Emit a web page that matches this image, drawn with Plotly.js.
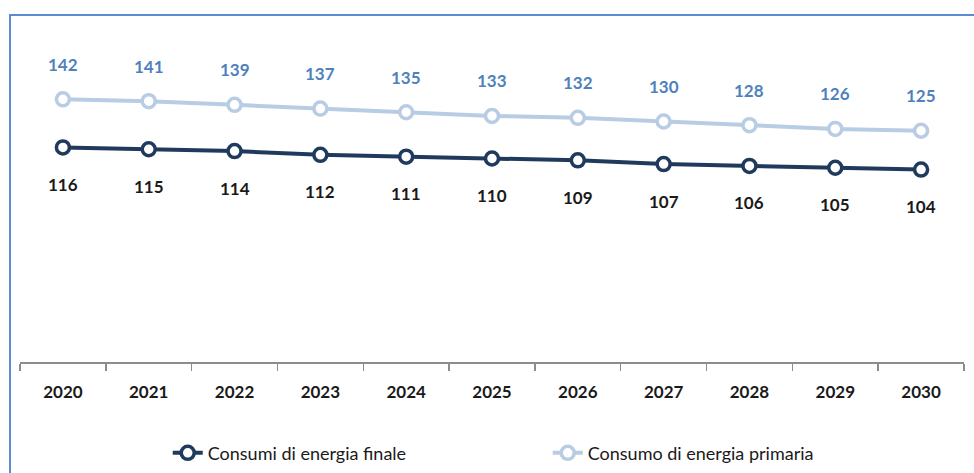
<!DOCTYPE html>
<html>
<head>
<meta charset="utf-8">
<script src="https://cdn.plot.ly/plotly-3.0.1.min.js"></script>
<style>
html,body{margin:0;padding:0;background:#fff;}
#wrap{position:relative;width:974px;height:473px;overflow:hidden;}
#chart{position:absolute;left:0;top:0;width:974px;height:473px;}
#frame{position:absolute;left:9px;top:14px;width:1000px;height:500px;border-left:2px solid #5b8bd0;border-top:2px solid #5b8bd0;pointer-events:none;}
</style>
</head>
<body>
<div id="wrap"><div id="chart"></div><div id="frame"></div></div>
<script>
const years = ['2020','2021','2022','2023','2024','2025','2026','2027','2028','2029','2030'];
const finale = [116,115,114,112,111,110,109,107,106,105,104];
const primaria = [142,141,139,137,135,133,132,130,128,126,125];
const nameFinale = 'Consumi di energia finale';
const namePrimaria = 'Consumo di energia primaria';

const darkC = '#1f3a5c';
const lightC = '#b8cce4';
const labelBlue = '#4f81bd';

const traces = [
  {x: years, y: finale, name: nameFinale, type: 'scatter', mode: 'lines+markers',
   line: {color: darkC, width: 4},
   marker: {symbol: 'circle', size: 13, color: '#ffffff', line: {color: darkC, width: 3.5}},
   cliponaxis: false},
  {x: years, y: primaria, name: namePrimaria, type: 'scatter', mode: 'lines+markers',
   line: {color: lightC, width: 4},
   marker: {symbol: 'circle', size: 13, color: '#ffffff', line: {color: lightC, width: 3.5}},
   cliponaxis: false}
];

const annotations = [];
years.forEach((yr, i) => {
  annotations.push({x: i, y: primaria[i], xref: 'x', yref: 'y', text: String(primaria[i]), showarrow: false,
    yshift: 35, font: {family: 'Lato, sans-serif', size: 17, color: labelBlue, weight: 'bold'}});
  annotations.push({x: i, y: finale[i], xref: 'x', yref: 'y', text: String(finale[i]), showarrow: false,
    yshift: -37, font: {family: 'Lato, sans-serif', size: 17, color: '#1a1a1a', weight: 'bold'}});
});

const layout = {
  width: 974, height: 473,
  margin: {l: 20, r: 10, t: 29, b: 111},
  paper_bgcolor: '#ffffff', plot_bgcolor: '#ffffff',
  showlegend: true,
  xaxis: {type: 'category', range: [-0.5, 10.5], showgrid: false, zeroline: false,
    showline: true, linecolor: '#8c8c8c', linewidth: 1.5,
    ticks: 'outside', tickson: 'boundaries', ticklen: 7, tickcolor: '#8c8c8c', tickwidth: 1.5,
    ticklabelstandoff: 14,
    tickfont: {family: 'Lato, sans-serif', size: 17, color: '#1a1a1a', weight: 'bold'}},
  yaxis: {range: [0, 180], visible: false, showgrid: false, zeroline: false, fixedrange: true},
  legend: {orientation: 'h', x: 0.1565, xanchor: 'left', yref: 'container', y: 0.042, yanchor: 'middle',
    entrywidth: 335, entrywidthmode: 'pixels',
    font: {family: 'Lato, sans-serif', size: 18, color: '#1a1a1a'}},
  annotations: annotations
};

Plotly.newPlot('chart', traces, layout, {displayModeBar: false, staticPlot: true});
</script>
</body>
</html>
